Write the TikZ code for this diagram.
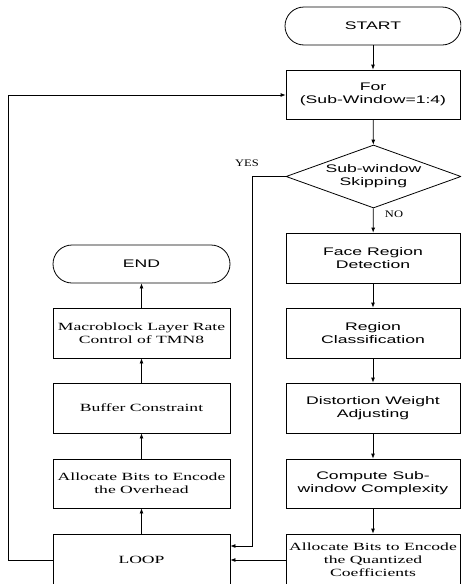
\documentclass[tikz,border=0pt]{standalone}
\usepackage{fontspec}
\usetikzlibrary{shapes.geometric,arrows.meta}
\newfontfamily\sfw[FakeStretch=1.6]{Liberation Sans}
\newfontfamily\rmw[FakeStretch=1.6]{Liberation Serif}
\newfontfamily\rml[FakeStretch=1.25]{Liberation Serif}

\begin{document}
\begin{tikzpicture}[x=1pt, y=-1pt, line width=0.8pt,
every node/.style={align=center, inner sep=0pt},
sbox/.style={draw, rectangle, minimum width=174pt, minimum height=50pt, font=\sfw\fontsize{11}{13}\selectfont},
rbox/.style={draw, rectangle, minimum width=177pt, minimum height=50pt, font=\rmw\fontsize{11}{13}\selectfont},
term/.style={draw, rectangle, rounded corners=19pt, minimum height=38pt, font=\sfw\fontsize{11}{13}\selectfont},
tag/.style={font=\rml\fontsize{10}{12}\selectfont},
arr/.style={-{Latex[length=5pt,width=4pt]}}]

\useasboundingbox (0,0) rectangle (461,584);
\clip (0,0) rectangle (461,584);

\node[term, minimum width=176pt] (start) at (373,26) {START};
\node[sbox, minimum height=49pt] (for) at (373,94.5) {For\\(Sub-Window=1:4)};
\node[draw, diamond, shape aspect=2.78, minimum width=175pt, minimum height=63pt, font=\sfw\fontsize{11}{13}\selectfont] (skip) at (373.5,176.5) {Sub-window\\Skipping};
\node[sbox] (face) at (373,258) {Face Region\\Detection};
\node[sbox] (class) at (373,333) {Region\\Classification};
\node[sbox] (dist) at (373,408) {Distortion Weight\\Adjusting};
\node[sbox, minimum height=49pt] (comp) at (373,483.5) {Compute Sub-\\window Complexity};
\node[rbox, minimum width=174pt, minimum height=52pt] (quant) at (373,560) {Allocate Bits to Encode\\the Quantized\\Coefficients};

\node[term, minimum width=177pt] (end) at (141.5,264) {END};
\node[rbox] (macro) at (141.5,333) {Macroblock Layer Rate\\Control of TMN8};
\node[rbox] (buffer) at (141.5,408) {Buffer Constraint};
\node[rbox, minimum height=49pt] (over) at (141.5,483.5) {Allocate Bits to Encode\\the Overhead};
\node[rbox, minimum height=52pt] (loop) at (141.5,560) {LOOP};

\node[tag] (yes) at (247,163) {YES};
\node[tag] (no) at (394,214) {NO};

\coordinate (yl) at (252,176.5);
\coordinate (yb) at (252,546);
\coordinate (ll) at (8,560);
\coordinate (lt) at (8,95);

\draw[arr] (start) -- (for);
\draw[arr] (for) -- (skip);
\draw[arr] (skip) -- (face);
\draw[arr] (face) -- (class);
\draw[arr] (class) -- (dist);
\draw[arr] (dist) -- (comp);
\draw[arr] (comp) -- (quant);
\draw[arr] (quant.west) -- (loop.east);
\draw[arr] (skip.west) -- (yl) -- (yb) -- (loop.east |- yb);
\draw[arr] (loop) -- (over);
\draw[arr] (over) -- (buffer);
\draw[arr] (buffer) -- (macro);
\draw[arr] (macro) -- (end);
\draw[arr] (loop.west) -- (ll) -- (lt) -- (for.west |- lt);
\end{tikzpicture}
\end{document}
